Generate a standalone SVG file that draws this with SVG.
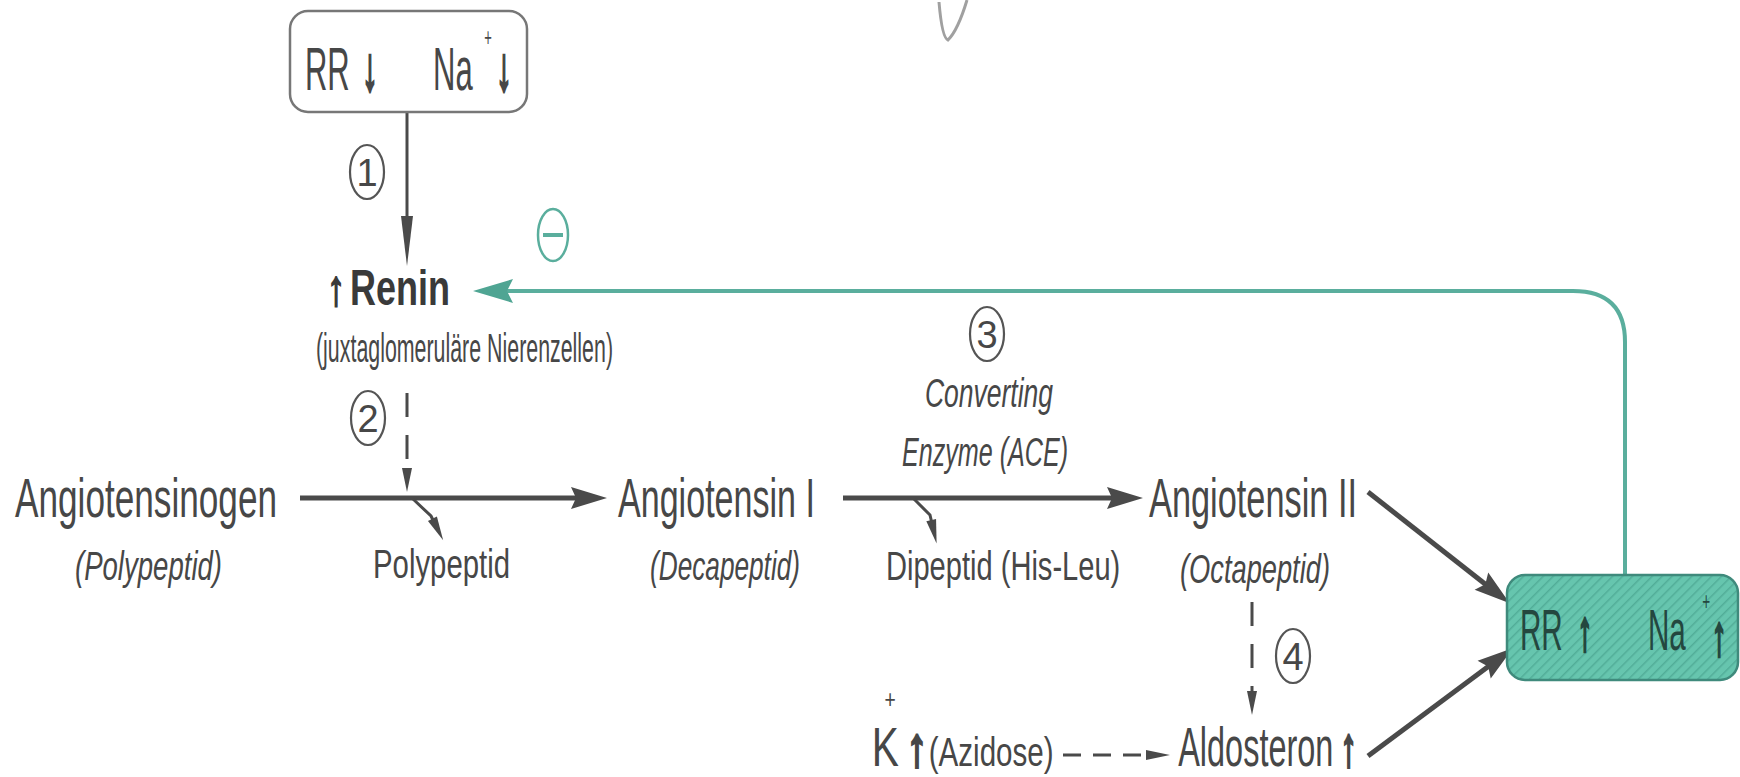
<svg xmlns="http://www.w3.org/2000/svg" width="1740" height="777" viewBox="0 0 1740 777">
<style>
text{font-family:"Liberation Sans",Arial,sans-serif;fill:#474747}
.lb{font-size:55px}
.tb{font-size:62px}
.bb{font-size:57px;fill:#24473f}
.sub{font-size:40px}
.it{font-size:40px;font-style:italic}
.num{font-size:38px;text-anchor:middle}
.arw{font-weight:bold;text-anchor:middle;stroke:#474747;stroke-width:3}
.bb .arw{stroke:#24473f}
.sup{font-size:26px;text-anchor:middle;stroke:none}
.ln{stroke:#4a4a4a;stroke-width:5;fill:none}
.thin{stroke:#4a4a4a;stroke-width:3;fill:none}
.dash{stroke:#4a4a4a;stroke-width:3;fill:none;stroke-dasharray:24 18}
.circ{fill:none;stroke:#555;stroke-width:2.2}
.teal{stroke:#5aae9d;stroke-width:4;fill:none}
</style>
<defs>
<marker id="arr" markerUnits="userSpaceOnUse" markerWidth="40" markerHeight="24" refX="16" refY="12" orient="auto" overflow="visible">
<path d="M0,1 L36,12 L0,23 L5,12 z" fill="#4a4a4a"/>
</marker>
<marker id="arrs" markerUnits="userSpaceOnUse" markerWidth="26" markerHeight="10" refX="8" refY="5" orient="auto" overflow="visible">
<path d="M0,0 L24,5 L0,10 z" fill="#4a4a4a"/>
</marker>
<marker id="arrl" markerUnits="userSpaceOnUse" markerWidth="52" markerHeight="12" refX="10" refY="6" orient="auto" overflow="visible">
<path d="M0,0 L50,6 L0,12 z" fill="#4a4a4a"/>
</marker>
<marker id="arrt" markerUnits="userSpaceOnUse" markerWidth="42" markerHeight="26" refX="20" refY="12" orient="auto" overflow="visible">
<path d="M0,0 L40,12 L0,24 L6,12 z" fill="#4fa593"/>
</marker>
<pattern id="hatch" patternUnits="userSpaceOnUse" width="7" height="7" patternTransform="rotate(45)">
<rect width="7" height="7" fill="#66c5ae"/>
<line x1="0" y1="0" x2="0" y2="7" stroke="#52ad98" stroke-width="3"/>
</pattern>
</defs>
<rect width="1740" height="777" fill="#ffffff"/>
<path d="M939,2 Q942,38 948,40 Q958,30 967,0" fill="none" stroke="#a0a0a0" stroke-width="3"/>

<g id="connectors">
<line class="thin" x1="407" y1="112" x2="407" y2="226" marker-end="url(#arrl)"/>
<line class="dash" x1="407" y1="393" x2="407" y2="476" marker-end="url(#arrs)"/>
<line class="ln" x1="300" y1="498" x2="587" y2="498" marker-end="url(#arr)"/>
<path class="thin" d="M413,499 L431,516 L436,526" marker-end="url(#arrs)"/>
<line class="ln" x1="843" y1="498" x2="1123" y2="498" marker-end="url(#arr)"/>
<path class="thin" d="M914,499 L930,515 L933,528" marker-end="url(#arrs)"/>
<line class="ln" x1="1368" y1="492" x2="1494" y2="591" marker-end="url(#arr)"/>
<line class="ln" x1="1368" y1="756" x2="1497" y2="660" marker-end="url(#arr)"/>
<line class="dash" x1="1252" y1="602" x2="1252" y2="699" marker-end="url(#arrs)"/>
<line class="thin" x1="1063" y1="755" x2="1154" y2="755" stroke-dasharray="18 12" marker-end="url(#arrs)"/>
<path class="teal" d="M1625,575 L1625,342 Q1625,291 1573,291 L493,291" marker-end="url(#arrt)"/>
<ellipse cx="553" cy="235" rx="15" ry="26" fill="none" stroke="#5aae9d" stroke-width="2.5"/>
<line x1="543" y1="235" x2="563" y2="235" stroke="#5aae9d" stroke-width="4"/>
<ellipse class="circ" cx="367" cy="172" rx="17" ry="27"/>
<text class="num" x="367" y="186">1</text>
<ellipse class="circ" cx="368" cy="418" rx="17" ry="27"/>
<text class="num" x="368" y="432">2</text>
<ellipse class="circ" cx="987" cy="334" rx="17" ry="27"/>
<text class="num" x="987" y="348">3</text>
<ellipse class="circ" cx="1293" cy="656" rx="17" ry="27"/>
<text class="num" x="1293" y="670">4</text>
</g>

<g id="node-low">
<rect x="290" y="11" width="237" height="101" rx="18" fill="#ffffff" stroke="#777" stroke-width="2.5"/>
<text class="tb" transform="translate(0,90) scale(0.5,1)" x="610" y="0">RR<tspan class="arw" x="740">↓</tspan><tspan x="866">Na</tspan><tspan class="sup" x="976" dy="-44">+</tspan><tspan class="arw" x="1008" dy="44">↓</tspan></text>
</g>

<g id="node-renin">
<text transform="translate(0,305) scale(0.72,1)" x="467" y="0" style="font-size:50px;font-weight:bold;fill:#3a3a3a;text-anchor:middle;stroke:#3a3a3a;stroke-width:2">↑<tspan x="486" style="text-anchor:start;stroke:none">Renin</tspan></text>
<text class="sub" x="316" y="362" textLength="297" lengthAdjust="spacingAndGlyphs">(juxtaglomeruläre Nierenzellen)</text>
</g>

<g id="node-angiotensinogen">
<text class="lb" x="15" y="517" textLength="262" lengthAdjust="spacingAndGlyphs">Angiotensinogen</text>
<text class="it" x="75" y="580" textLength="147" lengthAdjust="spacingAndGlyphs">(Polypeptid)</text>
</g>

<g id="node-polypeptid">
<text class="sub" x="373" y="578" textLength="137" lengthAdjust="spacingAndGlyphs">Polypeptid</text>
</g>

<g id="node-angiotensin1">
<text class="lb" x="618" y="517" textLength="197" lengthAdjust="spacingAndGlyphs">Angiotensin I</text>
<text class="it" x="650" y="580" textLength="150" lengthAdjust="spacingAndGlyphs">(Decapeptid)</text>
</g>

<g id="node-ace">
<text class="it" x="925" y="407" textLength="128" lengthAdjust="spacingAndGlyphs">Converting</text>
<text class="it" x="902" y="466" textLength="166" lengthAdjust="spacingAndGlyphs">Enzyme (ACE)</text>
</g>

<g id="node-dipeptid">
<text class="sub" transform="translate(886,580) scale(0.727,1)" x="0" y="0">Dipeptid (His-Leu)</text>
</g>

<g id="node-angiotensin2">
<text class="lb" x="1149" y="517" textLength="208" lengthAdjust="spacingAndGlyphs">Angiotensin II</text>
<text class="it" x="1180" y="583" textLength="150" lengthAdjust="spacingAndGlyphs">(Octapeptid)</text>
</g>

<g id="node-kalium">
<text class="lb" transform="translate(0,766) scale(0.74,1)" x="1178" y="0">K<tspan class="sup" x="1203" dy="-58">+</tspan><tspan class="arw" x="1239" dy="58">↑</tspan><tspan style="font-size:40px" x="1255">(Azidose)</tspan></text>
</g>

<g id="node-aldosteron">
<text class="lb" transform="translate(0,766) scale(0.59,1)" x="1997" y="0">Aldosteron<tspan class="arw" x="2286">↑</tspan></text>
</g>

<g id="node-high">
<rect x="1507" y="575" width="231" height="105" rx="18" fill="url(#hatch)" stroke="#3f8a7c" stroke-width="2.5"/>
<text class="bb" transform="translate(0,650) scale(0.52,1)" x="2923" y="0">RR<tspan class="arw" x="3048">↑</tspan><tspan x="3169">Na</tspan><tspan class="sup" x="3281" dy="-40">+</tspan><tspan class="arw" x="3306" dy="45">↑</tspan></text>
</g>
</svg>
